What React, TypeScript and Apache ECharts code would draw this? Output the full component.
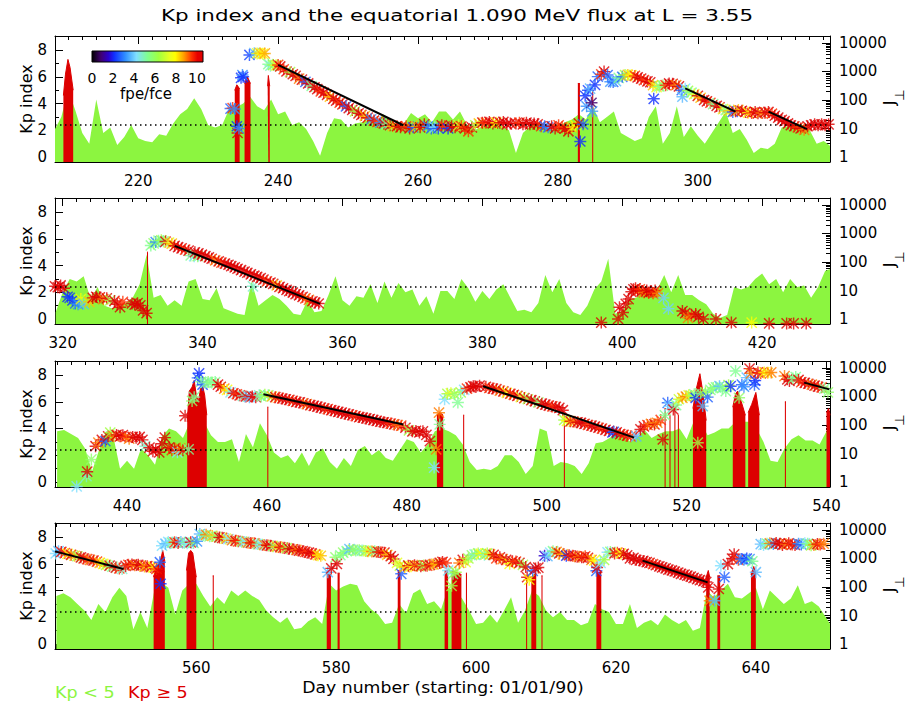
import React, { useEffect, useRef } from 'react';
import * as echarts from 'echarts';

const FONT = 'DejaVu Sans';
const TITLE = 'Kp index and the equatorial 1.090 MeV flux at L = 3.55';

const PANEL_X: [number, number][] = [[208.1, 318.9], [318.9, 429.7], [429.7, 540.5], [539.8, 650.6]];
const DAY_LABELS = [[220, 240, 260, 280, 300], [320, 340, 360, 380, 400, 420], [440, 460, 480, 500, 520, 540], [560, 580, 600, 620, 640]];
const KP_LABELS = [0, 2, 4, 6, 8];
const KP_MINOR = [1, 3, 5, 7, 9];
const KP_RANGE = [-0.37, 9.05];
const J_RANGE = [0.668, 17600];
const KP_DOTTED = 2.45;
const KP_START = [208, 319, 430, 540];

// daily Kp (green area)
const KP_P1 = [2.0, 3.0, 5.0, 3.5, 1.8, 1.0, 4.3, 1.8, 2.2, 0.9,
  1.5, 2.4, 1.4, 1.2, 1.1, 1.7, 1.6, 2.5, 3.2, 3.6,
  4.4, 3.6, 2.4, 2.2, 2.4, 3.6, 3.7, 4.0, 4.5, 3.8,
  3.5, 4.3, 3.2, 3.4, 2.4, 2.6, 2.1, 1.2, 0.1, 1.8,
  2.9, 2.8, 2.2, 2.5, 2.6, 2.8, 2.5, 3.2, 2.8, 2.4,
  2.5, 3.3, 2.9, 3.2, 2.6, 3.4, 3.4, 2.8, 3.4, 2.4,
  2.0, 2.2, 2.5, 2.6, 2.3, 2.0, 0.3, 1.8, 2.3, 2.5,
  2.3, 2.0, 2.2, 2.6, 2.8, 3.2, 2.8, 3.8, 2.6, 3.0,
  3.4, 1.8, 1.5, 1.2, 1.4, 3.0, 3.8, 1.0, 1.8, 3.8,
  1.5, 2.3, 1.6, 1.0, 1.8, 2.6, 3.4, 1.8, 2.1, 1.3,
  0.3, 0.7, 0.6, 1.0, 2.2, 2.3, 2.5, 2.4, 2.0, 1.0,
  1.2, 0.8];
const KP_P2 = [0.5, 2.0, 3.0, 2.8, 3.2, 1.5, 2.4, 1.0, 0.8, 0.9,
  1.2, 1.6, 2.6, 4.8, 1.6, 1.8, 1.0, 1.4, 1.0, 2.8,
  3.0, 1.5, 1.4, 2.3, 0.8, 0.6, 0.4, 0.3, 2.8, 1.0,
  1.4, 1.8, 1.5, 1.0, 0.4, 0.3, 1.4, 0.5, 0.6, 1.8,
  3.2, 1.4, 1.0, 1.7, 1.6, 2.6, 1.2, 2.8, 1.6, 2.7,
  2.0, 2.2, 1.0, 1.7, 0.4, 2.1, 2.1, 1.5, 3.0, 2.3,
  1.3, 2.1, 1.5, 2.2, 2.6, 1.6, 0.6, 0.7, 0.5, 1.2,
  3.3, 2.0, 3.0, 1.2, 0.5, 0.3, 1.0, 2.2, 2.8, 4.5,
  0.4, 0.6, 1.5, 1.6, 2.2, 2.0, 2.2, 3.3, 2.0, 3.3,
  1.8, 1.8, 1.4, 1.1, 0.4, 0.1, 0.3, 2.4, 2.2, 2.4,
  3.0, 3.4, 2.6, 3.0, 2.0, 3.0, 2.4, 2.5, 1.6, 2.4,
  3.6, 3.8];
const KP_P3 = [3.8, 3.9, 3.6, 3.3, 2.5, 0.8, 2.4, 3.8, 3.5, 1.0,
  1.6, 1.0, 2.5, 2.0, 1.3, 3.4, 4.0, 3.8, 3.3, 4.5,
  4.5, 4.5, 3.5, 3.0, 3.0, 3.2, 1.5, 3.6, 2.6, 4.4,
  3.5, 2.2, 1.8, 2.0, 1.4, 2.2, 1.2, 2.2, 2.5, 1.5,
  1.0, 1.8, 1.2, 2.4, 2.7, 2.0, 2.4, 1.8, 1.6, 2.4,
  3.2, 3.0, 2.2, 2.8, 3.8, 4.0, 3.8, 3.5, 2.8, 1.5,
  0.9, 1.0, 0.9, 1.2, 2.0, 2.0, 1.5, 0.6, 1.2, 4.0,
  3.8, 1.2, 1.5, 1.4, 1.2, 0.6, 1.4, 2.9, 3.0, 3.3,
  3.7, 3.4, 3.0, 3.4, 3.9, 3.3, 3.6, 3.8, 3.8, 4.0,
  3.2, 4.5, 4.5, 3.5, 3.7, 4.0, 4.0, 4.5, 4.5, 4.5,
  4.0, 3.0, 1.6, 1.5, 2.5, 3.2, 3.5, 3.1, 3.1, 2.8,
  3.8, 4.0];
const KP_P4 = [3.6, 3.8, 3.5, 3.0, 2.5, 1.8, 3.0, 2.4, 3.5, 4.2,
  3.6, 1.1, 2.4, 1.2, 4.0, 4.6, 4.2, 2.2, 4.0, 4.5,
  4.5, 3.6, 2.8, 3.5, 3.0, 4.0, 3.6, 4.0, 3.6, 3.3,
  2.5, 2.0, 1.6, 2.0, 1.1, 1.2, 1.7, 2.0, 1.5, 4.5,
  4.0, 4.3, 4.5, 4.4, 3.2, 2.6, 2.2, 1.5, 1.6, 3.0,
  2.3, 3.8, 4.1, 3.0, 3.2, 2.6, 4.2, 4.0, 3.4, 2.5,
  1.5, 1.6, 2.2, 1.6, 2.5, 3.5, 1.6, 2.5, 4.0, 3.6,
  2.5, 2.0, 2.4, 1.8, 1.8, 1.4, 1.6, 3.0, 2.6, 2.4,
  1.5, 1.5, 3.0, 1.2, 1.6, 1.8, 1.4, 2.2, 1.8, 1.5,
  1.8, 1.0, 1.2, 4.0, 3.5, 4.0, 4.5, 3.5, 3.4, 3.8,
  4.2, 2.6, 4.0, 3.5, 3.0, 3.4, 4.4, 3.0, 3.2, 2.8,
  2.0, 1.2];
const KP_ALL = [KP_P1, KP_P2, KP_P3, KP_P4];

// Kp >= 5 intervals (red), [day, Kp]
const RED_P1 = [
  [[209.3, 4.6], [209.6, 6.2], [209.95, 7.3], [210.25, 6.7], [210.7, 5.0]],
  [[233.8, 5.0], [234.1, 5.4], [234.5, 5.1]],
  [[235.2, 5.5], [235.6, 6.0], [236.05, 5.5]],
  [[238.5, 5.3], [238.6, 6.1], [238.8, 5.3]],
  [[282.85, 5.5], [283.15, 5.5]],
  [[284.9, 5.0], [285.05, 5.0]],
];
const RED_P2 = [
  [[332.05, 5.0], [332.2, 5.0]],
];
const RED_P3 = [
  [[448.6, 4.5], [448.9, 6.8], [449.3, 7.1], [449.6, 7.6], [449.9, 6.5], [450.2, 6.0], [450.5, 7.0], [450.8, 7.2], [451.1, 6.5], [451.4, 5.0]],
  [[460.05, 5.6], [460.2, 5.6]],
  [[484.3, 5.0], [484.7, 5.2], [485.2, 5.0]],
  [[488.05, 5.0], [488.2, 5.0]],
  [[502.45, 5.0], [502.6, 5.0]],
  [[516.85, 5.5], [517.0, 5.5]],
  [[517.55, 5.0], [517.7, 5.0]],
  [[518.25, 5.5], [518.4, 5.5]],
  [[518.75, 5.0], [518.9, 5.0]],
  [[520.9, 5.5], [521.4, 7.0], [521.9, 8.1], [522.3, 6.8], [522.8, 4.6]],
  [[525.35, 5.2], [525.45, 5.2]],
  [[525.65, 5.0], [525.75, 5.0]],
  [[526.6, 5.6], [527.0, 6.6], [527.3, 6.8], [527.7, 6.2], [528.4, 5.0]],
  [[528.8, 5.2], [529.3, 5.8], [529.9, 6.7], [530.4, 5.0]],
  [[534.05, 6.0], [534.2, 6.0]],
  [[540.0, 5.2], [540.3, 5.5], [540.5, 5.0]],
];
const RED_P4 = [
  [[553.9, 5.0], [554.3, 5.8], [554.7, 6.0], [555.0, 6.5], [555.2, 7.0], [555.5, 6.2]],
  [[558.6, 5.5], [558.9, 6.8], [559.2, 7.0], [559.5, 6.8], [559.8, 5.7], [560.0, 5.0]],
  [[562.35, 5.1], [562.5, 5.1]],
  [[578.35, 5.0], [578.45, 5.0]],
  [[578.65, 5.2], [579.25, 5.2]],
  [[580.2, 5.3], [580.5, 5.3]],
  [[588.8, 5.5], [589.2, 5.5]],
  [[595.5, 5.5], [596.0, 5.5]],
  [[596.5, 5.5], [597.9, 5.2]],
  [[598.55, 5.3], [598.7, 5.3]],
  [[607.15, 5.0], [607.3, 5.0]],
  [[607.9, 5.0], [608.6, 5.3]],
  [[609.35, 5.1], [609.5, 5.1]],
  [[617.2, 5.3], [617.9, 5.4]],
  [[632.9, 5.0], [633.2, 5.5], [633.4, 5.0]],
  [[634.5, 5.1], [634.9, 5.1]],
  [[639.3, 5.2], [639.7, 5.8], [640.0, 5.2]],
  [[644.25, 5.0], [644.35, 5.0]],
];
const RED_ALL = [RED_P1, RED_P2, RED_P3, RED_P4];

// equatorial flux: [day, J, fpe/fce]
const FLUX_P1 = [
  [233.2, 50, 2.5], [233.5, 52, 9], [233.8, 48, 3], [234.1, 12, 2], [234.2, 7, 10], [234.4, 10, 3], [234.7, 600, 2], [234.9, 750, 3], [235.0, 650, 2], [235.9, 3800, 2.2],
  [236.6, 4400, 3.5], [237.0, 4300, 7], [237.4, 4400, 8], [237.8, 4200, 7.5], [238.1, 4300, 8.2], [238.6, 1800, 5], [238.9, 1600, 4.5], [239.3, 1700, 6], [239.7, 1650, 7], [240.0, 1700, 9],
  [240.3, 1500, 10], [240.8, 1200, 9], [241.2, 1000, 10], [241.7, 950, 6], [242.1, 800, 10], [242.5, 700, 10], [243.0, 560, 8.5], [243.4, 520, 10], [243.9, 430, 2.5], [244.3, 380, 10],
  [244.8, 310, 5], [245.2, 280, 10], [245.6, 240, 10], [246.1, 200, 9], [246.5, 180, 10], [247.0, 150, 10], [247.4, 130, 8], [247.9, 110, 10], [248.3, 95, 10], [248.8, 80, 9],
  [249.2, 70, 10], [249.7, 60, 2.5], [250.1, 52, 10], [250.6, 45, 10], [251.0, 40, 6], [251.5, 34, 10], [251.9, 30, 10], [252.4, 27, 8], [252.8, 24, 10], [253.3, 21, 3],
  [253.7, 19, 10], [254.2, 17, 9], [254.6, 16, 3], [255.1, 15, 10], [255.5, 14, 5], [256.0, 13, 10], [256.4, 12, 8], [257.0, 12, 10], [257.5, 11, 10],
  [258.3, 12, 9], [258.8, 10, 10], [259.3, 11, 2.5], [259.8, 12, 8], [260.3, 11, 10], [260.9, 14, 10], [261.4, 12, 3], [261.9, 10, 2.5], [262.4, 11, 4], [262.9, 10, 2.2],
  [263.4, 13, 10], [263.8, 12, 9], [264.3, 10, 2], [264.8, 12, 10], [265.3, 11, 10], [265.8, 13, 7], [266.2, 12, 9], [266.7, 10, 10], [267.2, 8, 9], [267.7, 11, 10],
  [268.2, 13, 6], [268.7, 15, 8], [269.2, 16, 10], [269.7, 16, 9], [270.2, 17, 10], [270.7, 15, 10], [271.2, 16, 7.5], [271.7, 16, 10], [272.2, 17, 10], [272.7, 14, 10],
  [273.2, 15, 10], [274.0, 15, 10], [274.5, 16, 9], [275.0, 14, 10], [275.5, 16, 10], [276.0, 14, 10], [276.6, 15, 10], [277.1, 14, 10], [277.6, 12, 9], [278.1, 12, 2.5],
  [278.6, 11, 2.8], [279.1, 12, 10], [279.6, 10, 10], [280.1, 13, 9], [280.6, 11, 9], [281.0, 10, 10], [281.5, 8, 10], [282.0, 11, 8], [282.5, 13, 7.5], [283.0, 15, 10],
  [283.2, 3.5, 2], [283.6, 14, 2.5], [283.9, 140, 2], [284.1, 60, 3], [284.3, 220, 2.2], [284.6, 250, 3.5], [284.8, 80, 0.8], [284.9, 40, 3.2], [285.3, 340, 2], [285.7, 660, 2.5],
  [286.2, 800, 9], [286.6, 990, 10], [287.1, 750, 2.5], [287.5, 440, 3], [287.9, 430, 2.5], [288.3, 460, 3.5], [288.7, 600, 5], [289.2, 650, 2.5], [289.6, 750, 6], [290.0, 760, 8],
  [290.5, 740, 7.5], [291.0, 700, 9], [291.4, 620, 10], [291.9, 560, 10], [292.3, 500, 9], [292.8, 450, 10], [293.2, 420, 10], [293.6, 330, 8], [293.7, 110, 2], [294.1, 280, 7],
  [294.5, 300, 5], [295.0, 320, 5.5], [295.4, 330, 9], [295.9, 380, 10], [296.4, 370, 10], [296.9, 330, 8.5], [297.3, 300, 10], [297.7, 220, 2.5], [297.8, 130, 3.5],
  [298.2, 250, 4], [298.6, 210, 6], [299.1, 180, 5], [299.5, 160, 7], [300.0, 140, 10], [300.4, 120, 8], [300.9, 100, 10], [301.3, 90, 10], [301.8, 80, 9], [302.2, 72, 5],
  [302.7, 62, 10], [303.1, 55, 10], [303.6, 48, 7], [304.0, 44, 5], [304.5, 42, 8], [305.0, 38, 2.5], [305.4, 40, 10],
  [305.8, 45, 8], [306.3, 42, 10], [306.8, 38, 10], [307.2, 36, 7.5], [307.7, 35, 9], [308.2, 38, 10], [308.6, 34, 10], [309.1, 35, 8.5], [309.6, 36, 10], [310.1, 38, 10],
  [310.6, 33, 9], [311.0, 28, 10], [311.5, 24, 10], [312.0, 20, 10], [312.4, 18, 10], [312.9, 15, 10], [313.3, 13, 10], [313.8, 12, 10], [314.3, 11, 9], [314.7, 10, 10],
  [315.2, 9, 8.5], [315.7, 12, 10], [316.2, 13, 10], [316.7, 14, 10], [317.2, 13, 10], [317.7, 14, 10], [318.2, 13, 10], [318.7, 14, 10],
];
const FLUX_P2 = [
  [318.9, 14, 10], [319.3, 13, 10], [319.7, 15, 10], [320.2, 12, 10], [320.7, 6, 2], [321.0, 5.5, 2.2], [321.4, 4.5, 2],
  [321.8, 3.5, 2.5], [322.2, 3.3, 3], [322.6, 5, 7.5], [323.0, 3.4, 3.5], [323.4, 4.8, 6], [323.8, 4, 8],
  [324.3, 5.5, 10], [324.8, 6, 10], [325.3, 5.8, 10], [325.8, 5, 8.5], [326.3, 5.3, 10], [326.8, 4.5, 6],
  [327.4, 4.3, 10], [327.8, 3.3, 10], [328.2, 2.6, 10], [328.6, 4, 9],
  [329.9, 3.5, 10], [330.3, 3.2, 10], [330.7, 3.6, 10], [331.1, 3.0, 10], [331.5, 2.0, 10], [332.0, 1.6, 10],
  [332.6, 380, 5], [333.0, 450, 5.5], [333.3, 500, 2.8], [333.7, 560, 5], [334.1, 580, 6], [334.4, 530, 5], [334.7, 520, 10], [335.2, 480, 7], [335.6, 440, 8],
  [336.0, 370, 10], [336.5, 330, 10], [337.0, 300, 10], [337.5, 270, 9], [338.0, 250, 10], [338.3, 170, 5], [338.8, 160, 4], [339.3, 160, 5.5], [338.9, 220, 10], [339.4, 200, 10],
  [339.9, 180, 10], [340.4, 160, 10], [340.9, 145, 10], [341.3, 130, 10], [341.8, 115, 8.5], [342.3, 105, 10], [342.7, 95, 9], [343.2, 88, 10], [343.7, 80, 10], [344.1, 72, 10],
  [344.6, 65, 10], [345.0, 58, 10], [345.5, 52, 10], [346.0, 46, 10], [346.4, 42, 10], [346.9, 37, 10], [347.2, 14, 4.5], [347.4, 33, 10], [347.8, 30, 10], [348.3, 27, 10],
  [348.7, 24, 10], [349.2, 21, 9], [349.7, 19, 10], [350.1, 17, 10], [350.6, 15, 8], [351.0, 13.5, 10], [351.5, 12, 10], [352.0, 10.5, 10], [352.4, 9.5, 10], [352.9, 8.5, 10],
  [353.3, 7.5, 10], [353.8, 6.8, 10], [354.3, 6, 10], [354.7, 5.3, 9], [355.2, 4.7, 8.5], [355.7, 4.2, 10], [356.1, 3.8, 10], [356.6, 3.5, 10],
  [397.0, 0.75, 10], [399.4, 1.0, 10], [399.6, 2.6, 10], [400.1, 1.7, 10], [400.5, 3.4, 10], [400.9, 5, 10],
  [401.3, 9, 10], [401.6, 11, 10], [401.9, 12, 10], [402.2, 10, 10], [402.5, 11, 9], [402.8, 9.5, 10], [403.1, 8.5, 8.5], [403.5, 10, 10], [403.8, 8.5, 10], [404.1, 9, 10],
  [404.4, 8, 9], [404.7, 10, 10], [405.1, 8, 8.5], [405.9, 5.5, 3.8], [406.6, 2.3, 3.8],
  [408.6, 1.9, 10], [409.0, 1.6, 10], [409.4, 1.1, 8.5], [409.9, 1.4, 9], [410.5, 1.5, 10], [410.9, 1.2, 10], [411.6, 1.0, 10], [413.4, 1.0, 10],
  [415.6, 0.75, 10], [418.5, 0.75, 7.5], [421.0, 0.7, 10], [423.5, 0.7, 10], [424.5, 0.7, 10], [426.3, 0.7, 10],
];
const FLUX_P3 = [
  [432.8, 0.7, 4], [434.2, 1.6, 4.5], [434.3, 2.3, 10], [434.9, 6.2, 5.5], [435.5, 18, 10], [435.9, 24, 8.5], [436.4, 30, 10], [436.9, 27, 2.5], [437.3, 40, 10], [437.6, 54, 6],
  [438.1, 40, 8.5], [438.5, 45, 10], [439.0, 40, 10], [439.4, 44, 10], [439.8, 38, 9], [440.3, 33, 8.5], [440.8, 38, 10], [441.3, 36, 10], [441.8, 38, 10], [442.2, 30, 10],
  [442.6, 18, 4.5], [443.2, 16, 10], [443.7, 12, 10], [444.1, 14, 10], [444.6, 11, 10], [445.0, 22, 10], [445.4, 36, 10], [446.0, 16, 10], [446.4, 13, 9], [446.8, 15, 10],
  [447.2, 11, 4], [447.6, 15, 8.5], [448.0, 13, 10], [448.3, 210, 10], [448.8, 14, 5],
  [449.3, 700, 5.5], [449.6, 950, 5], [450.1, 4500, 2.5], [450.3, 6500, 2], [450.6, 3300, 5], [450.8, 2600, 2.2], [451.2, 3000, 4.5], [451.6, 3200, 5.5], [452.1, 3100, 5], [452.6, 3200, 5],
  [453.0, 2600, 9.5], [453.4, 2200, 10], [453.9, 1900, 8.5], [454.3, 1700, 7.5], [454.8, 1400, 4], [455.2, 1300, 10], [455.7, 1200, 9], [456.1, 1100, 10], [456.6, 1050, 4.5], [457.0, 1000, 10],
  [457.5, 950, 3.5], [457.9, 1000, 10], [458.4, 950, 9.5], [458.9, 1100, 4.5], [459.2, 1000, 5],
  [459.7, 1150, 6], [460.2, 1100, 5], [460.7, 1000, 8], [461.2, 950, 10], [461.7, 900, 9], [462.2, 850, 10], [462.7, 800, 10], [463.2, 760, 10], [463.7, 700, 9], [464.2, 650, 10],
  [464.7, 620, 10], [465.2, 580, 10], [465.7, 540, 8.5], [466.2, 500, 10], [466.7, 470, 10], [467.2, 440, 10], [467.7, 410, 10], [468.2, 380, 10], [468.7, 360, 9], [469.2, 330, 10],
  [469.7, 310, 10], [470.2, 290, 10], [470.7, 270, 10], [471.2, 250, 10], [471.7, 235, 10], [472.2, 220, 10], [472.7, 205, 9], [473.2, 190, 10], [473.7, 180, 10], [474.2, 170, 10],
  [474.7, 160, 10], [475.2, 150, 10], [475.7, 140, 10], [476.2, 130, 10], [476.7, 125, 10], [477.2, 118, 10], [477.7, 112, 9], [478.2, 105, 10], [478.7, 100, 8.5], [479.2, 95, 9],
  [479.8, 80, 10], [480.3, 65, 6], [480.8, 60, 10], [481.3, 62, 10], [481.8, 55, 10], [482.3, 60, 10], [482.8, 45, 10], [483.3, 27, 10], [483.9, 3.2, 4], [484.2, 14, 8.5],
  [484.7, 105, 5], [484.6, 270, 8.5], [485.4, 800, 4], [485.8, 1250, 6], [486.3, 1300, 7], [486.8, 1200, 5.5], [487.3, 620, 5], [487.7, 1400, 6], [488.2, 1700, 4], [488.6, 1900, 9],
  [489.1, 2100, 10], [489.5, 2300, 10], [489.9, 2200, 10], [490.4, 2400, 10],
  [491.3, 2200, 10], [491.8, 2000, 9], [492.3, 1900, 10], [492.8, 1800, 10], [493.3, 1600, 8.5], [493.8, 1500, 10], [494.3, 1350, 7.5], [494.8, 1250, 10], [495.3, 1150, 9], [495.8, 1050, 10],
  [496.3, 950, 7], [496.8, 880, 10], [497.3, 800, 6], [497.8, 740, 10], [498.3, 680, 10], [498.8, 620, 5.5], [499.3, 560, 10], [499.8, 520, 10], [500.3, 480, 10], [500.8, 450, 9],
  [501.3, 430, 10], [501.8, 400, 10], [502.3, 330, 10], [502.5, 150, 6], [502.9, 140, 7.5], [503.4, 135, 10], [503.9, 130, 8.5], [504.4, 125, 10], [504.9, 118, 10], [505.4, 110, 10],
  [505.9, 100, 9], [506.4, 95, 10], [506.9, 88, 10], [507.4, 80, 10], [507.9, 75, 9], [508.4, 68, 10], [508.9, 62, 10], [509.4, 55, 2], [509.6, 58, 2.5], [510.0, 55, 10],
  [510.5, 48, 10], [511.0, 45, 9], [511.5, 42, 10], [512.0, 40, 9], [512.8, 40, 3.5],
  [513.4, 70, 10], [513.9, 90, 10], [514.4, 100, 9], [514.9, 110, 8.5], [515.4, 105, 10], [515.8, 120, 8.5], [516.3, 150, 9], [516.6, 31, 10], [516.9, 220, 5], [517.3, 600, 2.5],
  [517.5, 450, 4], [518.1, 350, 10], [518.5, 500, 5], [518.9, 800, 6.5], [519.4, 900, 8], [519.9, 1000, 8.5], [520.3, 1100, 7], [520.7, 1050, 6], [521.1, 1200, 5], [521.3, 900, 2],
  [521.6, 24, 6], [522.0, 1300, 5], [522.3, 460, 3.5], [522.7, 1400, 6], [523.0, 950, 2.5], [523.4, 1700, 5], [523.8, 2000, 5.5], [524.2, 2100, 5], [524.7, 2300, 3.5], [525.1, 2000, 5],
  [525.6, 1550, 5], [526.0, 2500, 6], [526.3, 2300, 2], [527.0, 7800, 5], [527.5, 900, 5.5], [527.9, 2600, 2.5], [528.2, 2200, 3], [528.6, 4600, 3.5], [529.0, 9500, 10], [529.2, 6500, 8.5],
  [529.7, 2600, 2.5], [529.8, 3600, 2], [530.2, 7000, 10], [530.6, 6500, 9], [531.1, 7000, 7.5], [531.6, 6800, 8], [532.1, 7000, 8.5], [534.0, 5200, 8.5], [534.4, 4000, 10], [534.7, 3500, 10],
  [535.2, 4300, 5], [535.6, 4800, 5], [536.0, 3800, 10], [536.4, 3200, 9], [536.9, 3000, 10], [537.4, 2800, 10], [537.9, 2600, 8.5], [538.3, 2400, 10], [538.8, 2200, 10], [539.3, 2100, 9],
  [539.7, 1900, 5], [540.2, 1400, 5.5],
];
const FLUX_P4 = [
  [539.9, 1500, 4], [540.3, 1800, 3.5], [540.7, 1700, 10], [541.2, 1550, 9], [541.6, 1450, 7.5], [542.1, 1350, 10], [542.6, 1250, 8], [543.0, 1200, 6], [543.5, 1100, 10], [543.9, 1000, 10],
  [544.4, 950, 9], [544.8, 900, 8.5], [545.3, 850, 10], [545.8, 780, 9], [546.2, 700, 8], [546.7, 650, 7.5], [547.1, 600, 6], [547.6, 560, 10], [548.0, 520, 5], [548.5, 480, 10],
  [549.0, 450, 9], [549.4, 430, 4.5],
  [549.9, 550, 10], [550.3, 600, 9], [550.8, 620, 10], [551.2, 580, 8.5], [551.7, 600, 10], [552.1, 560, 10], [552.6, 520, 8], [553.0, 540, 9], [553.5, 500, 10], [553.9, 480, 7.5],
  [554.3, 430, 9], [554.6, 350, 9.5], [554.8, 740, 2.5], [554.9, 130, 2], [555.1, 2800, 4], [555.6, 3300, 3.5], [556.0, 3800, 4], [556.5, 3600, 5], [556.9, 3700, 9], [557.4, 3500, 10],
  [557.8, 3800, 3.5], [558.3, 3600, 5], [558.7, 3400, 4], [559.2, 3700, 10], [559.6, 3500, 5], [560.1, 4000, 3], [560.5, 7200, 3.5], [561.0, 6500, 5], [561.4, 6800, 8.5], [561.9, 6000, 5],
  [562.3, 6200, 8], [562.8, 5800, 5.5], [563.3, 5500, 10], [563.7, 5300, 10], [564.2, 5000, 7], [564.6, 4800, 4], [565.1, 4400, 8.5], [565.6, 4200, 10], [566.0, 4000, 9], [566.5, 3900, 5.5],
  [566.9, 3800, 4], [567.4, 3600, 8.5], [567.8, 3500, 10], [568.3, 3400, 9], [568.8, 3200, 5], [569.2, 3100, 4], [569.7, 3000, 8.5], [570.1, 2900, 10], [570.6, 2800, 10], [571.0, 2700, 5.5],
  [571.5, 2600, 8], [572.0, 2500, 10], [572.4, 2400, 9], [572.9, 2300, 6], [573.3, 2200, 10], [573.8, 2100, 10], [574.3, 2000, 8.5], [574.7, 1900, 10], [575.2, 1800, 10], [575.6, 1700, 9],
  [576.1, 1600, 10], [576.5, 1500, 10], [577.0, 1400, 9], [577.4, 1300, 7.5], [577.8, 1250, 8],
  [578.8, 330, 3.5], [579.3, 450, 10], [579.9, 1100, 5.5], [580.1, 650, 10], [580.6, 1300, 5], [581.0, 1600, 5.5], [581.5, 1800, 5], [581.9, 2150, 3.5], [582.4, 2000, 6], [582.8, 1900, 5],
  [583.3, 1950, 5.5], [583.7, 1900, 4.5], [584.2, 1850, 6], [584.6, 1800, 7], [585.1, 1750, 8.5], [585.5, 1800, 5], [586.0, 1700, 10], [586.4, 1650, 9], [586.9, 1600, 10], [587.3, 1350, 8],
  [587.8, 1200, 10], [588.2, 960, 10], [588.7, 700, 7], [589.1, 560, 6.5], [589.3, 290, 2.5], [589.8, 500, 8], [590.3, 560, 10], [590.7, 540, 7.5], [591.2, 580, 10], [591.6, 560, 8.5],
  [592.1, 540, 10], [592.5, 570, 6], [593.0, 560, 9], [593.4, 600, 10], [593.9, 620, 8.5], [594.3, 650, 8], [594.8, 700, 10], [595.2, 760, 10], [595.7, 700, 9], [596.0, 380, 4],
  [596.5, 110, 6], [596.7, 290, 5], [597.1, 330, 6],
  [597.6, 700, 8.5], [598.1, 900, 10], [598.5, 750, 7], [598.9, 1000, 6], [599.4, 1300, 5.5], [599.8, 1400, 4.5], [600.3, 1500, 6], [600.7, 1450, 7.5], [601.2, 1350, 4.5], [601.6, 1500, 6],
  [602.0, 1400, 8], [602.5, 1350, 10], [602.9, 1000, 9], [603.4, 1100, 10], [603.8, 950, 8.5], [604.3, 900, 10], [604.8, 650, 7.5], [605.2, 800, 10], [605.7, 780, 9], [606.2, 700, 10],
  [606.7, 600, 6], [607.1, 500, 10], [607.3, 220, 10], [607.6, 180, 7.5], [608.1, 370, 2.5], [608.5, 450, 10], [608.9, 480, 10],
  [609.8, 1250, 1.5], [610.2, 1200, 3.5], [610.6, 1600, 4], [611.0, 1800, 5], [611.5, 1700, 8.5], [611.9, 1500, 10], [612.4, 1400, 8], [612.9, 1250, 2], [613.3, 1300, 10], [613.8, 1250, 9],
  [614.2, 1200, 10], [614.7, 1150, 8.5], [615.1, 1100, 10], [615.6, 1200, 9], [616.0, 1050, 10], [616.5, 900, 8.5], [616.9, 850, 7.5], [617.2, 370, 2.5], [617.3, 480, 10], [617.8, 700, 4],
  [618.3, 900, 6], [618.8, 1650, 4], [619.2, 1700, 5.5], [619.8, 1500, 10], [620.2, 1600, 9], [620.7, 1500, 7.5], [621.1, 1450, 10], [621.6, 1300, 10], [622.0, 1000, 10], [622.5, 1050, 10],
  [622.9, 900, 10], [623.4, 850, 10],
  [623.9, 820, 10], [624.4, 750, 10], [624.8, 700, 10], [625.3, 640, 9], [625.7, 580, 10], [626.2, 530, 10], [626.6, 490, 10], [627.1, 450, 10], [627.5, 410, 10], [628.0, 380, 10],
  [628.4, 350, 10], [628.9, 320, 10], [629.3, 290, 10], [629.8, 270, 10], [630.2, 250, 10], [630.7, 230, 10], [631.1, 210, 10], [631.6, 190, 10], [632.0, 175, 10], [632.5, 160, 10],
  [632.9, 150, 10],
  [633.2, 97, 10], [633.4, 33, 8.5], [634.1, 33, 3.5], [634.7, 85, 10], [635.0, 560, 4], [635.5, 220, 2.5], [636.0, 640, 10], [636.6, 1000, 10], [636.9, 1400, 10], [637.5, 900, 9],
  [637.9, 960, 2.5], [638.3, 900, 3], [638.7, 1000, 2], [639.1, 950, 3], [639.5, 800, 5], [640.0, 330, 3.5],
  [640.7, 3200, 3.5], [641.1, 3000, 4], [641.6, 3300, 5], [642.0, 3400, 8.5], [642.5, 3200, 3], [642.9, 3500, 10], [643.4, 3300, 10], [643.8, 3000, 10], [644.3, 3200, 8.5], [644.7, 3400, 10],
  [645.2, 3100, 9], [645.6, 3000, 10], [646.1, 3300, 3], [646.5, 3100, 2.5], [647.0, 3400, 4], [647.4, 3300, 5], [647.9, 2900, 6], [648.3, 3000, 8.5], [648.8, 3200, 10], [649.2, 3100, 9],
  [649.7, 3300, 8.5],
];
const FLUX_ALL = [FLUX_P1, FLUX_P2, FLUX_P3, FLUX_P4];

// fitted decay lines [day, J]
const FIT_P1 = [[[240.0, 1700], [257.9, 13]], [[298.2, 257], [305.4, 39]], [[310.1, 39], [315.6, 9.5]]];
const FIT_P2 = [[[336.0, 370], [356.8, 3.4]]];
const FIT_P3 = [[[459.5, 1190], [479.5, 105]], [[490.9, 2300], [512.5, 36]], [[536.8, 3070], [540.4, 1780]]];
const FIT_P4 = [[[539.8, 1780], [549.6, 430]], [[623.8, 840], [633.1, 145]]];
const FIT_ALL = [FIT_P1, FIT_P2, FIT_P3, FIT_P4];

const FPE_BAR_LABELS = [0, 2, 4, 6, 8, 10];

// ---------- styling ----------
const GREEN = '#8cf540';
const RED = '#dd0000';
const GRID_TOP = [36, 198, 361, 523];
const GRID_H = 126;
const FPE_STOPS: [number, string][] = [
  [0, '#000000'], [0.8, '#400070'], [1.5, '#2a00d0'], [2, '#1030ff'], [3, '#3090ff'], [4, '#80e0ff'],
  [5, '#80ff90'], [6, '#a0ff40'], [7, '#e8ff20'], [7.5, '#ffff00'], [8.3, '#ff9a00'], [9, '#ff3000'], [9.5, '#e80000'], [10, '#dd0000'],
];

const STAR = 'path://M0,8.8H20V11.2H0Z M8.8,0H11.2V20H8.8Z M2.35,0.65L19.35,17.65L17.65,19.35L0.65,2.35Z M17.65,0.65L19.35,2.35L2.35,19.35L0.65,17.65Z';

function hexToRgb(h: string) {
  return [parseInt(h.slice(1, 3), 16), parseInt(h.slice(3, 5), 16), parseInt(h.slice(5, 7), 16)];
}
function fpeColor(v: number) {
  const x = Math.max(0, Math.min(10, v));
  for (let k = 1; k < FPE_STOPS.length; k++) {
    const [v1, c1] = FPE_STOPS[k];
    if (x <= v1) {
      const [v0, c0] = FPE_STOPS[k - 1];
      const t = v1 === v0 ? 0 : (x - v0) / (v1 - v0);
      const a = hexToRgb(c0), b = hexToRgb(c1);
      const r = a.map((q, j) => Math.round(q + (b[j] - q) * t));
      return `rgb(${r[0]},${r[1]},${r[2]})`;
    }
  }
  return FPE_STOPS[FPE_STOPS.length - 1][1];
}

function stepTicks(min: number, max: number, step: number) {
  const out: number[] = [];
  for (let v = Math.ceil(min / step) * step; v <= max + 1e-9; v += step) out.push(+v.toFixed(6));
  return out;
}
function logMinorTicks() {
  const out: number[] = [];
  for (let d = -1; d <= 4; d++) for (let m = 2; m <= 9; m++) out.push(Math.log10(m) + d);
  return out;
}

function buildOption() {
  const line = { color: '#000', width: 1 };
  const text = { color: '#000', fontFamily: FONT, fontSize: 15 };
  const grid: any[] = [];
  const xAxis: any[] = [];
  const yAxis: any[] = [];
  const series: any[] = [];
  const lmin = Math.log10(J_RANGE[0]);
  const lmax = Math.log10(J_RANGE[1]);

  PANEL_X.forEach(([x0, x1], i) => {
    grid.push({ left: 55, right: 84, top: GRID_TOP[i], height: GRID_H });
    const minor = stepTicks(x0, x1, 2);
    const base = { gridIndex: i, type: 'value', min: x0, max: x1, splitLine: { show: false } };
    xAxis.push({ ...base, position: 'bottom', axisLine: { show: true, onZero: false, lineStyle: line },
      axisTick: { show: true, inside: true, length: 8, customValues: DAY_LABELS[i], lineStyle: line },
      axisLabel: { show: true, customValues: DAY_LABELS[i], margin: 11, ...text } });
    xAxis.push({ ...base, position: 'bottom', axisLine: { show: false, onZero: false },
      axisTick: { show: true, inside: true, length: 4, customValues: minor, lineStyle: line }, axisLabel: { show: false } });
    xAxis.push({ ...base, position: 'top', axisLine: { show: true, onZero: false, lineStyle: line },
      axisTick: { show: true, inside: true, length: 8, customValues: DAY_LABELS[i], lineStyle: line }, axisLabel: { show: false } });
    xAxis.push({ ...base, position: 'top', axisLine: { show: false, onZero: false },
      axisTick: { show: true, inside: true, length: 4, customValues: minor, lineStyle: line }, axisLabel: { show: false } });

    yAxis.push({ gridIndex: i, type: 'value', min: KP_RANGE[0], max: KP_RANGE[1], position: 'left',
      axisLine: { show: true, onZero: false, lineStyle: line },
      axisTick: { show: true, inside: true, length: 8, customValues: KP_LABELS, lineStyle: line },
      axisLabel: { show: true, customValues: KP_LABELS, margin: 8, ...text }, splitLine: { show: false },
      name: 'Kp index', nameLocation: 'middle', nameRotate: 90, nameGap: 21, nameMoveOverlap: false,
      nameTextStyle: { ...text, fontSize: 16 } });
    yAxis.push({ gridIndex: i, type: 'value', min: KP_RANGE[0], max: KP_RANGE[1], position: 'left',
      axisLine: { show: false, onZero: false },
      axisTick: { show: true, inside: true, length: 4, customValues: KP_MINOR, lineStyle: line },
      axisLabel: { show: false }, splitLine: { show: false } });
    yAxis.push({ gridIndex: i, type: 'log', logBase: 10, min: J_RANGE[0], max: J_RANGE[1], position: 'right',
      axisLine: { show: true, onZero: false, lineStyle: line },
      axisTick: { show: true, inside: true, length: 8, lineStyle: line },
      axisLabel: { show: true, showMinLabel: false, showMaxLabel: false, margin: 9, ...text, formatter: (v: number) => String(Math.round(v)) },
      splitLine: { show: false } });
    yAxis.push({ gridIndex: i, type: 'value', min: lmin, max: lmax, position: 'right',
      axisLine: { show: false, onZero: false },
      axisTick: { show: true, inside: true, length: 4, customValues: logMinorTicks().filter(v => v > lmin && v < lmax), lineStyle: line },
      axisLabel: { show: false }, splitLine: { show: false } });

    const xi = 4 * i;
    const kp = KP_ALL[i].map((v, k) => [KP_START[i] + k, v]);
    series.push({ type: 'line', xAxisIndex: xi, yAxisIndex: 4 * i, data: kp, symbol: 'none', silent: true,
      lineStyle: { width: 0, color: GREEN }, itemStyle: { color: GREEN },
      areaStyle: { color: GREEN, opacity: 1, origin: 'start' }, z: 1,
      markLine: { silent: true, symbol: ['none', 'none'], label: { show: false },
        lineStyle: { color: '#000', type: [1.5, 3.5], width: 1.5 }, data: [{ yAxis: KP_DOTTED }] } });
    RED_ALL[i].forEach(seg => {
      series.push({ type: 'line', xAxisIndex: xi, yAxisIndex: 4 * i, data: seg, symbol: 'none', silent: true,
        lineStyle: { width: 1, color: RED }, itemStyle: { color: RED },
        areaStyle: { color: RED, opacity: 1, origin: 'start' }, z: 2 });
    });
    series.push({ type: 'scatter', xAxisIndex: xi, yAxisIndex: 4 * i + 2, data: FLUX_ALL[i],
      symbol: STAR, symbolSize: 12, symbolKeepAspect: true, silent: true,
      itemStyle: { color: (p: any) => fpeColor(p.data[2]) }, z: 3 });
    FIT_ALL[i].forEach(seg => {
      series.push({ type: 'line', xAxisIndex: xi, yAxisIndex: 4 * i + 2, data: seg, symbol: 'none', silent: true,
        lineStyle: { color: '#000', width: 2 }, z: 4 });
    });
  });

  const gradient = new echarts.graphic.LinearGradient(0, 0, 1, 0,
    FPE_STOPS.map(([v, c]) => ({ offset: v / 10, color: c })));

  const txt = (s: string, x: number, y: number, opts: any = {}) => ({
    type: 'text', x, y, scaleX: opts.scaleX || 1, rotation: opts.rotation || 0, z: 100,
    style: { text: s, x: 0, y: 0, fontSize: opts.fontSize || 15, fontFamily: FONT, fill: opts.fill || '#000',
      align: opts.align || 'center', textAlign: opts.align || 'center', verticalAlign: 'middle', textVerticalAlign: 'middle' },
  });

  const jLabels: any[] = [];
  GRID_TOP.forEach(top => {
    const mid = top + GRID_H / 2;
    jLabels.push(txt('J', 889, mid + 4, { fontSize: 16, rotation: Math.PI / 2 }));
    jLabels.push(txt('⊥', 899, mid - 4, { fontSize: 13, rotation: Math.PI / 2 }));
  });

  const graphic: any[] = [
    txt(TITLE, 457, 15, { fontSize: 16, scaleX: 1.34 }),
    { type: 'rect', z: 100, shape: { x: 92, y: 51, width: 111, height: 11 }, style: { fill: gradient, stroke: '#000', lineWidth: 1 } },
    ...FPE_BAR_LABELS.map(v => txt(String(v), 92 + v * 10.5, 78, { fontSize: 14 })),
    txt('fpe/fce', 146, 94, { fontSize: 15 }),
    ...jLabels,
    txt('Kp < 5', 55, 692, { fontSize: 16, fill: GREEN, align: 'left', scaleX: 1.1 }),
    txt('Kp ≥ 5', 128, 692, { fontSize: 16, fill: RED, align: 'left', scaleX: 1.1 }),
    txt('Day number (starting: 01/01/90)', 443, 688, { fontSize: 16, scaleX: 1.08 }),
  ];

  return { animation: false, backgroundColor: '#ffffff', grid, xAxis, yAxis, series, graphic };
}

export default function App() {
  const ref = useRef<HTMLDivElement>(null);
  useEffect(() => {
    const chart = echarts.init(ref.current!, null, { renderer: 'svg' });
    chart.setOption(buildOption() as any);
    return () => chart.dispose();
  }, []);
  return <div ref={ref} style={{ position: 'fixed', left: 0, top: 0, width: 914, height: 702, background: '#fff' }} />;
}
